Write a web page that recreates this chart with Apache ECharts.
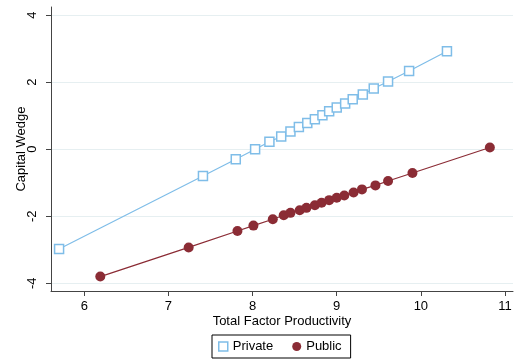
<!DOCTYPE html>
<html>
<head>
<meta charset="utf-8">
<script src="https://cdn.jsdelivr.net/npm/echarts@6/dist/echarts.min.js"></script>
<style>
html,body{margin:0;padding:0;background:#fff;}
#chart{width:517px;height:362px;}
</style>
</head>
<body>
<div id="chart"></div>
<script>
const privateTFP = [5.70, 7.41, 7.80, 8.03, 8.20, 8.34, 8.45, 8.55, 8.65, 8.74, 8.83, 8.91, 9.00, 9.10, 9.19, 9.31, 9.44, 9.61, 9.86, 10.31];
const privateWedge = [-2.98, -0.80, -0.30, 0.00, 0.22, 0.38, 0.53, 0.66, 0.78, 0.89, 1.01, 1.13, 1.24, 1.36, 1.49, 1.63, 1.81, 2.02, 2.33, 2.92];
const publicTFP = [6.19, 7.24, 7.82, 8.01, 8.24, 8.37, 8.45, 8.56, 8.64, 8.74, 8.82, 8.91, 9.00, 9.09, 9.20, 9.30, 9.46, 9.61, 9.90, 10.82];
const publicWedge = [-3.80, -2.93, -2.44, -2.28, -2.09, -1.97, -1.90, -1.82, -1.75, -1.67, -1.60, -1.52, -1.45, -1.38, -1.29, -1.20, -1.08, -0.95, -0.71, 0.05];
const xTicks = [6, 7, 8, 9, 10, 11];
const yTicks = [-4, -2, 0, 2, 4];
const seriesNames = ['Private', 'Public'];
const xTitle = 'Total Factor Productivity';
const yTitle = 'Capital Wedge';

const blue = '#7fbde8';
const red = '#8b2c35';
const font = 'Liberation Sans, Arial, sans-serif';

const chart = echarts.init(document.getElementById('chart'), null, {renderer: 'canvas'});
chart.setOption({
  animation: false,
  backgroundColor: '#fff',
  grid: {left: 51, right: 4, top: 7, bottom: 71, containLabel: false, outerBoundsMode: 'none'},
  xAxis: {
    type: 'value', min: 5.604, max: 11.095,
    name: xTitle, nameLocation: 'middle', nameGap: 24, nameMoveOverlap: false,
    nameTextStyle: {fontFamily: font, fontSize: 13, color: '#000'},
    axisLine: {show: true, onZero: false, lineStyle: {color: '#444', width: 1}},
    axisTick: {show: true, length: 5, customValues: xTicks, lineStyle: {color: '#444'}},
    axisLabel: {customValues: xTicks, fontFamily: font, fontSize: 13, color: '#000', margin: 9},
    splitLine: {show: false}
  },
  yAxis: {
    type: 'value', min: -4.23, max: 4.24,
    name: yTitle, nameLocation: 'middle', nameGap: 23, nameMoveOverlap: false,
    nameTextStyle: {fontFamily: font, fontSize: 13, color: '#000'},
    axisLine: {show: true, onZero: false, lineStyle: {color: '#444', width: 1}},
    axisTick: {show: true, length: 5, customValues: yTicks, lineStyle: {color: '#444'}},
    axisLabel: {customValues: yTicks, rotate: 90, fontFamily: font, fontSize: 13, color: '#000', margin: 12},
    splitLine: {show: true, lineStyle: {color: '#e6eff1', width: 1}}
  },
  legend: {
    left: 212, top: 335, orient: 'horizontal',
    borderColor: '#000', borderWidth: 1, borderRadius: 0,
    padding: [5, 9, 5, 6],
    itemGap: 19, itemWidth: 9, itemHeight: 9,
    textStyle: {fontFamily: font, fontSize: 13, color: '#000'},
    data: [
      {name: seriesNames[0], icon: 'rect', itemStyle: {color: '#fff', borderColor: blue, borderWidth: 1.5}},
      {name: seriesNames[1], icon: 'circle', itemStyle: {color: red, borderWidth: 0}}
    ]
  },
  series: [
    {
      name: seriesNames[0], type: 'line',
      data: privateTFP.map((v, i) => [v, privateWedge[i]]),
      symbol: 'rect', symbolSize: 9,
      itemStyle: {color: '#fff', borderColor: blue, borderWidth: 1.5},
      lineStyle: {color: blue, width: 1.2}
    },
    {
      name: seriesNames[1], type: 'line',
      data: publicTFP.map((v, i) => [v, publicWedge[i]]),
      symbol: 'circle', symbolSize: 10,
      itemStyle: {color: red, borderWidth: 0},
      lineStyle: {color: red, width: 1.2}
    }
  ]
});
</script>
</body>
</html>
